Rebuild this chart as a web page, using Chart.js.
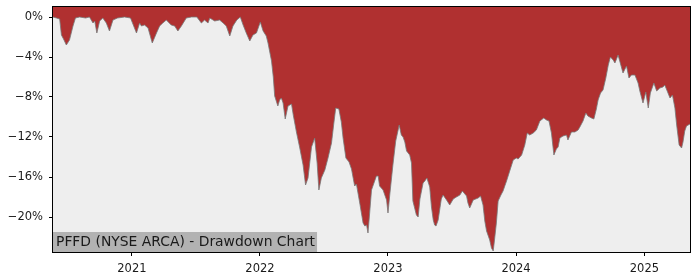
<!DOCTYPE html>
<html>
<head>
<meta charset="utf-8">
<title>PFFD Drawdown</title>
<script src="https://cdn.jsdelivr.net/npm/chart.js@4.4.1/dist/chart.umd.min.js"></script>
<style>
  html, body { margin: 0; padding: 0; background: #ffffff; }
  #wrap { width: 700px; height: 280px; position: relative; }
</style>
</head>
<body>
<div id="wrap"><canvas id="chart"></canvas></div>
<script>
// Drawdown (percent below the running high)
const dates = [
  '2020-05-21','2020-05-31','2020-06-09','2020-06-14','2020-06-20','2020-06-28','2020-07-07','2020-07-17','2020-07-24','2020-08-05',
  '2020-08-22','2020-09-02','2020-09-12','2020-09-17','2020-09-23','2020-10-01','2020-10-10','2020-10-20','2020-10-29','2020-11-08',
  '2020-11-21','2020-12-11','2020-12-28','2021-01-14','2021-01-23','2021-01-28','2021-02-06','2021-02-16','2021-02-28','2021-03-12',
  '2021-03-21','2021-03-30','2021-04-09','2021-04-23','2021-05-03','2021-05-12','2021-05-22','2021-06-05','2021-06-20','2021-07-05',
  '2021-07-18','2021-07-27','2021-08-06','2021-08-11','2021-08-25','2021-09-08','2021-09-18','2021-09-27','2021-10-07','2021-10-16',
  '2021-10-27','2021-11-06','2021-11-14','2021-11-23','2021-12-03','2021-12-12','2021-12-22','2022-01-02','2022-01-10','2022-01-19',
  '2022-01-24','2022-02-03','2022-02-08','2022-02-12','2022-02-21','2022-02-26','2022-03-03','2022-03-08','2022-03-14','2022-03-22',
  '2022-04-01','2022-04-06','2022-04-15','2022-04-24','2022-05-04','2022-05-11','2022-05-18','2022-05-28','2022-06-06','2022-06-13',
  '2022-06-18','2022-06-25','2022-07-05','2022-07-14','2022-07-24','2022-07-30','2022-08-05','2022-08-14','2022-08-21','2022-08-26',
  '2022-09-03','2022-09-12','2022-09-19','2022-09-28','2022-10-03','2022-10-12','2022-10-22','2022-10-27','2022-11-01','2022-11-05',
  '2022-11-10','2022-11-15','2022-11-19','2022-11-29','2022-12-04','2022-12-08','2022-12-18','2022-12-28','2023-01-01','2023-01-06',
  '2023-01-15','2023-01-23','2023-02-02','2023-02-08','2023-02-13','2023-02-18','2023-02-23','2023-03-04','2023-03-09','2023-03-13',
  '2023-03-23','2023-03-28','2023-04-02','2023-04-11','2023-04-16','2023-04-22','2023-04-30','2023-05-05','2023-05-10','2023-05-14',
  '2023-05-18','2023-05-24','2023-06-02','2023-06-07','2023-06-17','2023-06-26','2023-07-06','2023-07-15','2023-07-25','2023-08-01',
  '2023-08-13','2023-08-17','2023-08-22','2023-09-01','2023-09-15','2023-09-22','2023-09-29','2023-10-04','2023-10-09','2023-10-13',
  '2023-10-18','2023-10-23','2023-10-28','2023-10-31','2023-11-06','2023-11-11','2023-11-19','2023-11-25','2023-12-05','2023-12-14',
  '2023-12-24','2024-01-02','2024-01-07','2024-01-17','2024-01-26','2024-02-02','2024-02-09','2024-02-19','2024-02-28','2024-03-09',
  '2024-03-20','2024-03-28','2024-04-04','2024-04-11','2024-04-18','2024-04-25','2024-04-30','2024-05-05','2024-05-14','2024-05-24',
  '2024-05-28','2024-06-07','2024-06-17','2024-06-26','2024-07-01','2024-07-10','2024-07-18','2024-07-24','2024-08-03','2024-08-10',
  '2024-08-17','2024-08-22','2024-08-29','2024-09-05','2024-09-13','2024-09-20','2024-09-26','2024-10-04','2024-10-09','2024-10-18',
  '2024-10-25','2024-11-01','2024-11-11','2024-11-18','2024-11-25','2024-12-05','2024-12-14','2024-12-19','2024-12-28','2025-01-05',
  '2025-01-12','2025-01-18','2025-01-28','2025-02-05','2025-02-14','2025-02-23','2025-02-28','2025-03-07','2025-03-15','2025-03-22',
  '2025-03-29','2025-04-03','2025-04-10','2025-04-17','2025-04-21','2025-04-26','2025-05-01','2025-05-11'
];
const drawdown = [
  0, -0.1, -0.2, -1.8, -2.2, -2.8, -2.3, -0.9, -0.1, 0,
  -0.1, 0, -0.6, -0.4, -1.6, -0.4, -0.1, -0.6, -1.4, -0.3,
  -0.1, 0, -0.1, -1.6, -0.6, -0.9, -0.8, -1.1, -2.6, -1.6,
  -0.9, -0.6, -0.3, -0.8, -0.9, -1.4, -0.9, -0.1, 0, 0,
  -0.6, -0.3, -0.6, -0.1, -0.4, -0.3, -0.6, -0.9, -1.9, -0.9,
  -0.3, 0, -0.8, -1.6, -2.4, -1.8, -1.6, -0.5, -1.4, -1.9,
  -2.6, -4.4, -6.0, -7.9, -8.9, -8.3, -8.1, -8.6, -10.2, -8.9,
  -8.7, -9.8, -11.5, -13.0, -14.8, -16.8, -16.1, -13.0, -12.1, -14.6,
  -17.3, -16.1, -15.3, -14.1, -12.6, -10.8, -9.1, -9.2, -10.5, -12.1,
  -14.1, -14.5, -15.2, -16.9, -16.7, -18.5, -20.6, -20.9, -20.8, -21.6,
  -19.5, -17.3, -16.9, -15.9, -15.9, -16.9, -17.3, -18.3, -19.6, -17.8,
  -14.8, -12.4, -10.8, -11.8, -12.0, -12.5, -13.4, -13.8, -14.6, -18.4,
  -19.8, -20.0, -18.2, -16.6, -16.4, -16.1, -17.0, -19.0, -20.3, -20.8,
  -20.9, -20.3, -18.2, -17.8, -18.3, -18.8, -18.2, -18.0, -17.8, -17.4,
  -17.9, -18.6, -19.1, -18.3, -18.1, -17.9, -18.8, -20.4, -21.4, -21.8,
  -22.3, -23.1, -23.4, -22.5, -20.6, -18.4, -17.8, -17.4, -16.4, -15.4,
  -14.3, -14.1, -14.2, -13.8, -12.8, -11.6, -11.8, -11.6, -11.3, -10.4,
  -10.1, -10.3, -10.4, -11.6, -13.8, -13.2, -13.0, -12.1, -11.9, -11.8,
  -12.3, -11.5, -11.5, -11.3, -11.0, -10.4, -9.6, -9.9, -10.1, -10.2,
  -9.2, -8.3, -7.6, -7.3, -6.1, -4.8, -4.0, -4.3, -4.6, -3.8,
  -4.7, -5.6, -4.9, -6.1, -5.8, -5.8, -6.6, -7.4, -8.6, -7.5,
  -9.1, -7.6, -6.6, -7.4, -7.1, -7.0, -6.8, -7.4, -8.1, -7.8,
  -9.1, -10.8, -12.8, -13.1, -12.5, -11.4, -10.9, -10.7
];
const yearTicks = [2021, 2022, 2023, 2024, 2025];
const pctTicks = [0, -4, -8, -12, -16, -20];
const chartTitle = 'PFFD (NYSE ARCA) - Drawdown Chart';

function toMs(s) {
  const p = s.split('-');
  return Date.UTC(+p[0], +p[1] - 1, +p[2]);
}

const points = dates.map((d, i) => ({ x: toMs(d), y: drawdown[i] }));

// Plot background, frame and the label box in the lower left corner
const framePlugin = {
  id: 'frame',
  beforeDraw(chart) {
    const a = chart.chartArea;
    const ctx = chart.ctx;
    ctx.save();
    ctx.fillStyle = '#eeeeee';
    ctx.fillRect(a.left, a.top, a.right - a.left, a.bottom - a.top);
    ctx.restore();
  },
  afterDatasetsDraw(chart) {
    const a = chart.chartArea;
    const ctx = chart.ctx;
    ctx.save();
    ctx.font = '13.9px "DejaVu Sans"';
    const w = ctx.measureText(chartTitle).width;
    ctx.fillStyle = '#b2b2b2';
    ctx.fillRect(a.left, a.bottom - 20, w + 5, 20);
    ctx.fillStyle = '#1a1a1a';
    ctx.textBaseline = 'middle';
    ctx.fillText(chartTitle, a.left + 3, a.bottom - 9.5);
    ctx.strokeStyle = '#000000';
    ctx.lineWidth = 1;
    ctx.strokeRect(Math.round(a.left) - 0.5, Math.round(a.top) - 0.5,
      Math.round(a.right - a.left) + 1, Math.round(a.bottom - a.top) + 1);
    ctx.restore();
  }
};

// keep the plot box exactly where the layout padding puts it
function noLabelPadding(scale) {
  scale.paddingTop = 0;
  scale.paddingBottom = 0;
  scale.paddingLeft = 0;
  scale.paddingRight = 0;
}

new Chart(document.getElementById('chart'), {
  type: 'line',
  data: {
    datasets: [{
      data: points,
      fill: 'end',
      backgroundColor: '#b03030',
      borderColor: 'rgba(120,120,120,0.8)',
      borderWidth: 1,
      pointRadius: 0,
      tension: 0
    }]
  },
  options: {
    responsive: true,
    maintainAspectRatio: false,
    animation: false,
    layout: { padding: { left: 0, right: 10, top: 7, bottom: 0 } },
    plugins: { legend: { display: false }, tooltip: { enabled: false } },
    scales: {
      x: {
        type: 'linear',
        min: points[0].x,
        max: points[points.length - 1].x,
        afterBuildTicks(scale) {
          scale.ticks = yearTicks.map(y => ({ value: Date.UTC(y, 0, 1) }));
        },
        afterFit(scale) { scale.height = 28; noLabelPadding(scale); },
        grid: { drawOnChartArea: false, drawTicks: true, tickLength: 4, color: '#000000' },
        border: { display: false },
        ticks: {
          color: '#1a1a1a',
          font: { family: 'DejaVu Sans', size: 11.5 },
          padding: 6,
          maxRotation: 0,
          callback: v => String(new Date(v).getUTCFullYear())
        }
      },
      y: {
        min: -23.5,
        max: 1.0,
        afterBuildTicks(scale) {
          scale.ticks = pctTicks.map(v => ({ value: v }));
        },
        afterFit(scale) { scale.width = 53; noLabelPadding(scale); },
        grid: { drawOnChartArea: false, drawTicks: true, tickLength: 4, color: '#000000' },
        border: { display: false },
        ticks: {
          color: '#1a1a1a',
          font: { family: 'DejaVu Sans', size: 11.5 },
          padding: 6,
          callback: v => (v < 0 ? '\u2212' + Math.abs(v) : v) + '%'
        }
      }
    }
  },
  plugins: [framePlugin]
});
</script>
</body>
</html>
